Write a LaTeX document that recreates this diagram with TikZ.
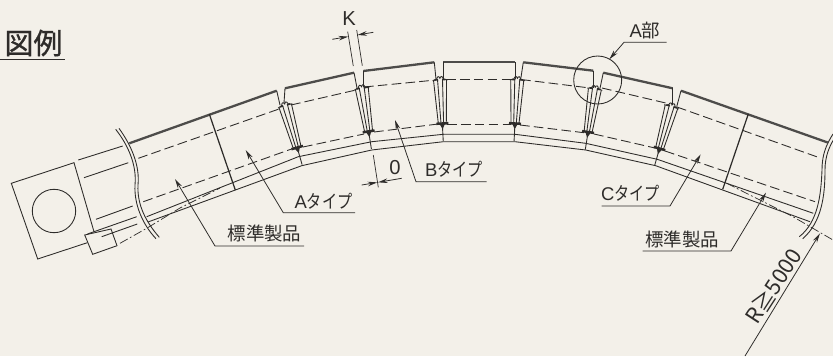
\documentclass[tikz,border=0pt]{standalone}
\usepackage{fontspec}
\setmainfont{Liberation Sans}
\newfontfamily\jpfont{Noto Sans CJK JP}
\newfontfamily\kanafont[FakeStretch=0.82]{Noto Sans CJK JP}
\newfontfamily\titlefont[FakeBold=1]{Noto Sans CJK JP}
\usetikzlibrary{arrows.meta}
\definecolor{paper}{HTML}{F3F0E9}
\definecolor{ink}{HTML}{2E2C2A}
\tikzset{
    part/.style={ink, line width=0.5pt},
    cover/.style={ink!85, line width=1.3pt},
    center/.style={ink, line width=0.5pt, dash pattern=on 5.5pt off 2.4pt},
    chain/.style={ink, line width=0.4pt, dash pattern=on 5pt off 1.5pt on 1pt off 1.5pt},
    leader/.style={ink, line width=0.45pt, -{Stealth[length=5.5pt,width=2.6pt]}},
    label/.style={ink, inner sep=0pt, font=\fontsize{10.5pt}{12pt}\selectfont},
    dimtext/.style={ink, inner sep=0pt, font=\fontsize{11.5pt}{13pt}\selectfont},
}
\begin{document}
\begin{tikzpicture}[x=0.02cm, y=-0.02cm]
    \useasboundingbox (0, 0) rectangle (833, 356);
    \fill[paper] (0, 0) rectangle (833, 356);
    \clip (0, 0) rectangle (833, 356);

    % title
    \node[ink, inner sep=0pt, font=\fontsize{16.5pt}{18pt}\selectfont] (title) at (33.5, 43) {\titlefont 図例};
    \draw[part] (0, 59) -- (65, 59);

    % motor
    \draw[part] (87.3, 242.7) -- (37.7, 259) -- (11.3, 183.3) -- (74, 162.7) -- (94, 231.7);
    \draw[part] (54, 211) circle (21.7);
    \draw[part] (84.7, 235) -- (111, 229) -- (117, 245.7) -- (92.7, 254.3) -- cycle;
    \draw[part] (87.5, 234) -- (94, 231.7);
    \draw[part] (78.3, 160) -- (122.7, 146);
    \draw[part] (84, 177.7) -- (128.3, 162.7);
    \draw[part] (96, 219.3) -- (132.7, 206);
    \draw[part] (94, 231.7) -- (136.7, 216.7);
    \draw[part] (101.7, 236.7) -- (137.3, 224);

    % break lines
    \draw[part] (115.7, 129.3) .. controls (128, 145) and (137, 165) .. (135, 185) .. controls (134, 205) and (143, 225) .. (156, 238.7);
    \draw[part] (119, 128.3) .. controls (131, 145) and (140, 165) .. (138, 185) .. controls (137, 205) and (146, 222) .. (159.3, 237.3);
    \draw[part] (833, 134) .. controls (826, 145) and (822, 155) .. (822, 170) .. controls (821, 195) and (818, 222) .. (799.3, 236.7);
    \draw[part] (834, 139) .. controls (829, 147) and (825, 157) .. (825, 170) .. controls (825, 195) and (822, 222) .. (802.7, 238.7);

    % cover
    \draw[cover] (129.3, 143.3) -- (276.7, 90.7);
    \draw[cover] (285, 88.3) -- (354, 72.7);
    \draw[cover] (363.3, 71) -- (434.3, 62.3);
    \draw[cover] (443.3, 62) -- (515, 62);
    \draw[cover] (523.3, 62.3) -- (593.3, 70.7);
    \draw[cover] (603.3, 72.7) -- (672.7, 88.3);
    \draw[cover] (681, 90.7) -- (828.3, 142.7);
    \draw[part] (276.7, 90.7) -- (280, 105);
    \draw[part] (285, 88.3) -- (284, 103);
    \draw[part] (354, 72.7) -- (357.3, 89.3);
    \draw[part] (363.3, 71) -- (363.3, 86.7);
    \draw[part] (434.3, 62.3) -- (436, 79.3);
    \draw[part] (443.3, 62) -- (443.3, 79.3);
    \draw[part] (515, 62) -- (515, 79.3);
    \draw[part] (523.3, 62.3) -- (520.7, 79.3);
    \draw[part] (593.3, 70.7) -- (593.3, 88.3);
    \draw[part] (603.3, 72.7) -- (600, 88.3);
    \draw[part] (672.7, 88.3) -- (672.7, 104);
    \draw[part] (681, 90.7) -- (676.7, 106.7);

    % splits
    \draw[part, line width=0.7pt] (209.3, 114) -- (235.3, 190);
    \draw[part, line width=0.7pt] (748.3, 114) -- (722.7, 189.3);

    % center lines
    \draw[center] (138.3, 158.3) -- (279, 109);
    \draw[center] (291, 105) -- (356, 90);
    \draw[center] (364, 87) -- (436, 80);
    \draw[center] (446, 79.3) -- (515, 79.3);
    \draw[center] (521, 79.5) -- (590, 88);
    \draw[center] (602, 88) -- (670, 104);
    \draw[center] (677, 107) -- (818.3, 157.3);
    \draw[center] (143.3, 201.7) -- (293, 148.5);
    \draw[center] (303, 147) -- (364, 134);
    \draw[center] (374, 132) -- (438, 124);
    \draw[center] (447, 124) -- (511, 124);
    \draw[center] (520, 125) -- (584, 132.7);
    \draw[center] (594, 134) -- (655, 148);
    \draw[center] (665, 151) -- (815, 201.7);

    % rails
    \draw[part] (146.7, 216.7) -- (298.3, 156.7) -- (371.7, 141.7) -- (443.3, 134.3) -- (515, 134.3) -- (585.7, 143.3) -- (657.3, 159.3) -- (813.3, 213.3);
    \draw[part] (148, 222) -- (301.7, 165.7) -- (371.7, 150) -- (443.3, 141.7) -- (515, 141.7) -- (585.7, 150) -- (655.7, 165.7) -- (810, 221.7);

    % roller axis
    \draw[chain] (120, 243.3) -- (146.7, 228.3) -- (180, 208) -- (220, 188);
    \draw[chain] (726.7, 183.3) -- (793, 216.7) -- (833, 240);

    % joints
    \foreach \tx/\ty/\ang in {285/105/16, 361.7/87.7/9, 440/79.3/3, 517.3/79.3/-3, 595/88.3/-9, 671.7/106/-16} {
        \begin{scope}[shift={(\tx, \ty)}, rotate=\ang]
            \draw[part] (-6.5, 1) -- (-4, 44);
            \draw[part] (-2.5, 0) -- (-1.3, 44);
            \draw[part] (2.5, 0) -- (1.3, 44);
            \draw[part] (6.5, 1) -- (4, 44);
            \draw[part] (-7.5, 1) -- (-3.5, 0) .. controls (-2.5, -3.5) and (-1, -3.5) .. (0, -1) .. controls (1, -3.5) and (2.5, -3.5) .. (3.5, 0) -- (7.5, 1);
            \fill[ink] (-5.5, -0.5) rectangle (-2, 1.2);
            \fill[ink] (2, -0.5) rectangle (5.5, 1.2);
            \fill[ink] (-6, 43) rectangle (6, 45.5);
            \fill[ink] (-2.5, 45) -- (2.5, 45) -- (0, 50) -- cycle;
            \draw[part] (0, 44) -- (0, 62);
        \end{scope}
    }

    % K and 0
    \draw[part, line width=0.4pt] (347.7, 31.7) -- (353.3, 66);
    \draw[part, line width=0.4pt] (356.7, 30) -- (362.3, 65.7);
    \coordinate (kl) at (332.3, 39.3);
    \coordinate (kla) at (348.3, 36.6);
    \coordinate (kr) at (373.3, 32.3);
    \coordinate (kra) at (357.3, 35);
    \draw[leader] (kl) -- (kla);
    \draw[leader] (kr) -- (kra);
    \node[dimtext] (kdim) at (349, 19) {K};

    \draw[part, line width=0.4pt] (373.3, 155) -- (378.3, 187.3);
    \coordinate (zl) at (361.7, 185);
    \coordinate (zla) at (377.3, 182.4);
    \coordinate (zr) at (401.7, 178.3);
    \coordinate (zra) at (378, 182.3);
    \draw[leader] (zl) -- (zla);
    \draw[leader] (zr) -- (zra);
    \node[dimtext] (zdim) at (395, 167.3) {0};

    % leaders
    \node[label] (stdleft) at (264.5, 233) {\jpfont 標準製品};
    \coordinate (stdleftk) at (215, 246);
    \coordinate (stdlefte) at (304, 246);
    \coordinate (stdleftt) at (175, 179);
    \draw[leader] (stdlefte) -- (stdleftk) -- (stdleftt);

    \node[label] (atype) at (323.5, 201) {A\kanafont タイプ};
    \coordinate (atypek) at (283.3, 212.7);
    \coordinate (atypee) at (355, 212.7);
    \coordinate (atypet) at (245.7, 150);
    \draw[leader] (atypee) -- (atypek) -- (atypet);

    \node[label] (btype) at (454, 169) {B\kanafont タイプ};
    \coordinate (btypek) at (416, 181.7);
    \coordinate (btypee) at (486.7, 181.7);
    \coordinate (btypet) at (395, 120);
    \draw[leader] (btypee) -- (btypek) -- (btypet);

    \node[label] (ctype) at (630.5, 193.3) {C\kanafont タイプ};
    \coordinate (ctypek) at (670, 206);
    \coordinate (ctypee) at (601.7, 206);
    \coordinate (ctypet) at (700.7, 154.3);
    \draw[leader] (ctypee) -- (ctypek) -- (ctypet);

    \node[label] (stdright) at (682.3, 239) {\jpfont 標準製品};
    \coordinate (stdrightk) at (731, 251);
    \coordinate (stdrighte) at (642.7, 251);
    \coordinate (stdrightt) at (766, 192.7);
    \draw[leader] (stdrighte) -- (stdrightk) -- (stdrightt);

    \node[label] (apart) at (645, 30.7) {A\jpfont 部};
    \coordinate (apartk) at (624, 42.3);
    \coordinate (aparte) at (666.7, 42.3);
    \coordinate (apartt) at (609.3, 59.3);
    \draw[leader] (aparte) -- (apartk) -- (apartt);
    \draw[part] (597.7, 80) circle (24);

    % radius
    \coordinate (rlow) at (745, 356);
    \coordinate (rtip) at (820, 233.3);
    \draw[leader] (rlow) -- (rtip);
    \node[ink, inner sep=0pt, font=\fontsize{12.3pt}{14pt}\selectfont, rotate=57] (radius) at (773, 286) {\jpfont R≧5000};
\end{tikzpicture}
\end{document}
